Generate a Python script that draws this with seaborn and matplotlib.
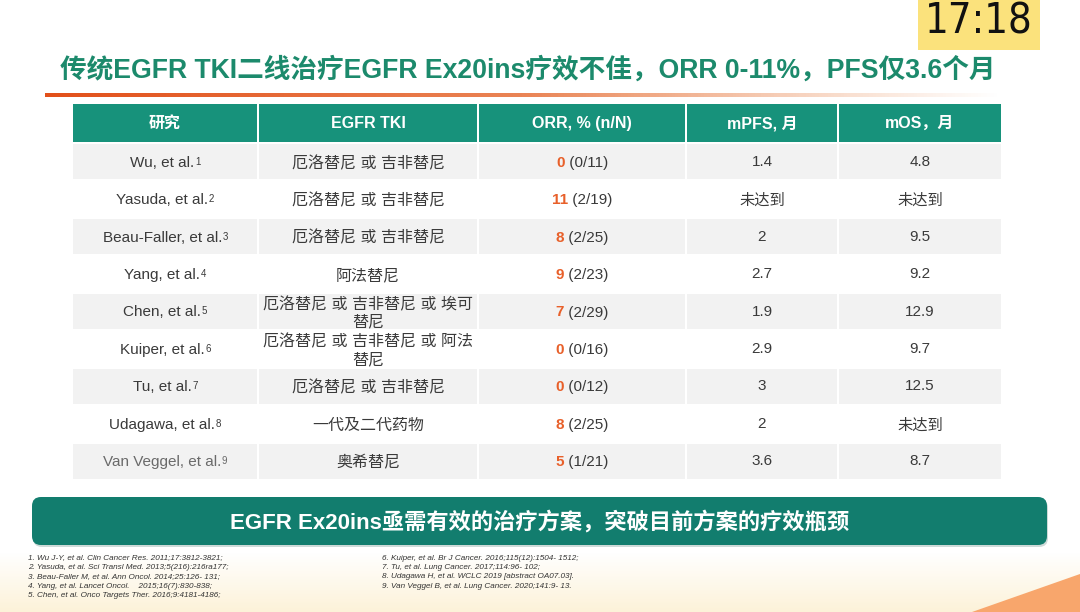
import numpy as np
import pandas as pd
import matplotlib
matplotlib.use('Agg')
import matplotlib.pyplot as plt
from matplotlib.patches import Rectangle, FancyBboxPatch, Polygon
import seaborn as sns

sns.set_theme(style='white')
plt.rcParams['font.family'] = ['Liberation Sans', 'Noto Sans CJK SC', 'DejaVu Sans']

# 数据
studies = ['Wu', 'Yasuda', 'Beau-Faller', 'Yang', 'Chen', 'Kuiper', 'Tu', 'Udagawa', 'Van Veggel']
refs = ['1', '2', '3', '4', '5', '6', '7', '8', '9']
tki = ['厄洛替尼 或 吉非替尼', '厄洛替尼 或 吉非替尼', '厄洛替尼 或 吉非替尼', '阿法替尼',
       '厄洛替尼 或 吉非替尼 或 埃可\n替尼', '厄洛替尼 或 吉非替尼 或 阿法\n替尼',
       '厄洛替尼 或 吉非替尼', '一代及二代药物', '奥希替尼']
orr_pct = ['0', '11', '8', '9', '7', '0', '0', '8', '5']
orr_n = ['0/11', '2/19', '2/25', '2/23', '2/29', '0/16', '0/12', '2/25', '1/21']
mpfs = ['1.4', '未达到', '2', '2.7', '1.9', '2.9', '3', '2', '3.6']
mos = ['4.8', '未达到', '9.5', '9.2', '12.9', '9.7', '12.5', '未达到', '8.7']
headers = ['研究', 'EGFR TKI', 'ORR, % (n/N)', 'mPFS, 月', 'mOS，月']

refs_left = ['1. Wu J-Y, et al. Clin Cancer Res. 2011;17:3812-3821;',
             '2. Yasuda, et al. Sci Transl Med. 2013;5(216):216ra177;',
             '3. Beau-Faller M, et al. Ann Oncol. 2014;25:126- 131;',
             '4. Yang, et al. Lancet Oncol.    2015;16(7):830-838;',
             '5. Chen, et al. Onco Targets Ther. 2016;9:4181-4186;']
refs_right = ['6. Kuiper, et al. Br J Cancer. 2016;115(12):1504- 1512;',
              '7. Tu, et al. Lung Cancer. 2017;114:96- 102;',
              '8. Udagawa H, et al. WCLC 2019 [abstract OA07.03].',
              '9. Van Veggel B, et al. Lung Cancer. 2020;141:9- 13.']

df = pd.DataFrame({'study': studies, 'ref': refs, 'tki': tki, 'orr_pct': orr_pct,
                   'orr_n': orr_n, 'mpfs': mpfs, 'mos': mos})

teal_head = '#17927b'
teal_band = '#127d6e'
green_title = '#1c8a6c'
orange = '#e8602a'
txt = '#3a3a3a'
stripe = '#f2f2f2'

fig = plt.figure(figsize=(10.8, 6.12), dpi=100)
ax = fig.add_axes([0, 0, 1, 1])
ax.set_xlim(0, 1080)
ax.set_ylim(612, 0)
ax.axis('off')
renderer = fig.canvas.get_renderer()

# 背景底部淡黄
grad = np.zeros((60, 2, 4))
grad[..., :3] = matplotlib.colors.to_rgb('#fcefcf')
grad[..., 3] = np.linspace(0, 0.8, 60)[:, None]
ax.imshow(grad, extent=[0, 1080, 612, 552], aspect='auto', zorder=0)
ax.add_patch(Polygon([[972, 612], [1080, 574], [1080, 612]], closed=True,
                     color='#f8a66c', lw=0, zorder=1))

# 时钟
ax.add_patch(Rectangle((918, 0), 122, 50, color='#fbe27c', lw=0, zorder=2))
ax.text(979, 22, '17:18', fontsize=30, color='#111111', ha='center', va='center',
        family='DejaVu Sans', fontstretch='condensed', zorder=3)

# 标题
ax.text(528, 70, '传统EGFR TKI二线治疗EGFR Ex20ins疗效不佳，ORR 0-11%，PFS仅3.6个月',
        fontsize=19.2, fontweight='bold', color=green_title, ha='center', va='center',
        family=['Liberation Sans', 'Noto Sans CJK SC'])

# 标题下渐变线
line = np.zeros((1, 300, 4))
c0 = np.array(matplotlib.colors.to_rgb('#e2501a'))
c1 = np.array(matplotlib.colors.to_rgb('#f2b890'))
t = np.linspace(0, 1, 300)
line[0, :, :3] = c0[None, :] * (1 - t[:, None]) + c1[None, :] * t[:, None]
line[0, :, 3] = np.clip(1.0 - np.clip((t - 0.5) / 0.5, 0, 1) ** 1.2, 0, 1)
ax.imshow(line, extent=[45, 1000, 97, 93], aspect='auto', zorder=2)

# 表格
edges = [72, 258, 478, 686, 838, 1002]
centers = [(a + b) / 2 for a, b in zip(edges[:-1], edges[1:])]
head_top, head_bot = 104, 143
row_h = (480 - head_bot) / len(df)

for j in range(5):
    ax.add_patch(Rectangle((edges[j] + 1, head_top), edges[j + 1] - edges[j] - 2,
                           head_bot - head_top - 1, color=teal_head, lw=0, zorder=2))
    ax.text(centers[j], (head_top + head_bot) / 2, headers[j], fontsize=11.5,
            fontweight='bold', color='white', ha='center', va='center', zorder=3)

for i, r in df.iterrows():
    y0 = head_bot + i * row_h
    yc = y0 + row_h / 2
    if i % 2 == 0:
        for j in range(5):
            ax.add_patch(Rectangle((edges[j] + 1, y0 + 1), edges[j + 1] - edges[j] - 2,
                                   row_h - 2, color=stripe, lw=0, zorder=2))
    col = '#6a6a6a' if i == len(df) - 1 else txt
    # 研究 + 上标
    t1 = ax.text(0, yc + 5, f'{r.study}, et al.', fontsize=11, color=col,
                 ha='left', va='baseline', zorder=3)
    t2 = ax.text(0, yc + 3, r.ref, fontsize=7, color=col, ha='left', va='baseline', zorder=3)
    w1 = t1.get_window_extent(renderer).width
    w2 = t2.get_window_extent(renderer).width
    x0 = centers[0] - (w1 + w2) / 2
    t1.set_x(x0)
    t2.set_x(x0 + w1 + 0.5)
    # TKI
    ax.text(centers[1], yc + 1.5, r.tki, fontsize=11.5, color=txt, ha='center', va='center',
            linespacing=1.2, zorder=3)
    # ORR
    a1 = ax.text(0, yc + 5, r.orr_pct, fontsize=11, fontweight='bold', color=orange,
                 ha='left', va='baseline', zorder=3)
    a2 = ax.text(0, yc + 5, f' ({r.orr_n})', fontsize=11, color=txt,
                 ha='left', va='baseline', zorder=3)
    v1 = a1.get_window_extent(renderer).width
    v2 = a2.get_window_extent(renderer).width
    x0 = centers[2] - (v1 + v2) / 2
    a1.set_x(x0)
    a2.set_x(x0 + v1)
    for j, v in ((3, r.mpfs), (4, r.mos)):
        dy = 1.5 if v == '未达到' else 0
        ax.text(centers[j], yc + dy, v, fontsize=11, color=txt, ha='center', va='center',
                zorder=3)

# 底部横幅
ax.add_patch(FancyBboxPatch((33, 499), 1015, 48, boxstyle='round,pad=0,rounding_size=9',
                            color='#9fb7b2', alpha=0.5, lw=0, zorder=2))
ax.add_patch(FancyBboxPatch((32, 497), 1015, 48, boxstyle='round,pad=0,rounding_size=9',
                            color=teal_band, lw=0, zorder=3))
ax.text(540, 522, 'EGFR Ex20ins亟需有效的治疗方案，突破目前方案的疗效瓶颈', fontsize=16,
        fontweight='bold', color='white', ha='center', va='center', zorder=4,
        family=['Liberation Sans', 'Noto Sans CJK SC'])

# 参考文献
for k, s in enumerate(refs_left):
    ax.text(28, 558 + k * 9.4, s, fontsize=5.9, style='italic', color='#333333',
            ha='left', va='center', zorder=4)
for k, s in enumerate(refs_right):
    ax.text(382, 558 + k * 9.4, s, fontsize=5.9, style='italic', color='#333333',
            ha='left', va='center', zorder=4)

fig.savefig('out.png', dpi=100, facecolor='white')
